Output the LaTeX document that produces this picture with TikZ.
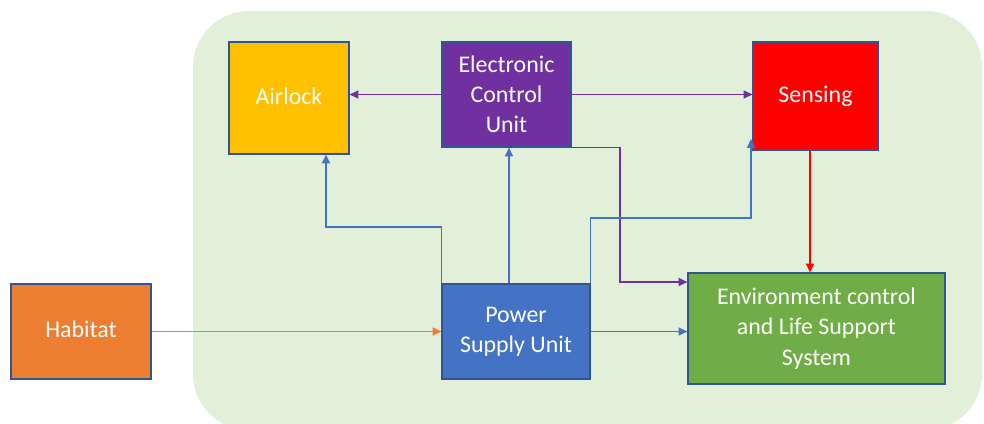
\documentclass[tikz,border=0pt]{standalone}
\usepackage{fontspec}
\setmainfont{Carlito}
\usetikzlibrary{positioning,arrows.meta,calc}
\definecolor{bggreen}{HTML}{E2EFD9}
\definecolor{edge}{HTML}{2F5597}
\definecolor{amber}{HTML}{FFC000}
\definecolor{violet}{HTML}{7030A0}
\definecolor{alarm}{HTML}{FF0000}
\definecolor{rust}{HTML}{ED7D31}
\definecolor{azure}{HTML}{4472C4}
\definecolor{leaf}{HTML}{70AD47}
\tikzset{
  blk/.style ={draw=edge, line width=.8pt, align=center, text=white, inner sep=2pt, font=\fontsize{17}{21.5}\selectfont},
  blka/.style={blk, fill=amber},
  blkv/.style={blk, fill=violet},
  blkr/.style={blk, fill=alarm},
  blko/.style={blk, fill=rust},
  blkb/.style={blk, fill=azure},
  blkg/.style={blk, fill=leaf},
  ctl/.style ={draw=violet, line width=1.1pt, -{Triangle[length=2.2mm,width=2mm]}},
  pwr/.style ={draw=azure,  line width=1.1pt, -{Triangle[length=2.2mm,width=2mm]}},
  hot/.style ={draw=alarm,  line width=1.1pt, -{Triangle[length=2.2mm,width=2mm]}},
  hab/.style ={draw=rust,   line width=1.1pt, -{Triangle[length=2.2mm,width=2mm]}},
}

\begin{document}
\begin{tikzpicture}[x=0.025cm,y=-0.025cm]
    \useasboundingbox (0,0) rectangle (984,423);
    \fill[bggreen, rounded corners=1.4cm] (193,11) rectangle (982,430);

    \node[blka,minimum width=3cm,    minimum height=2.8cm]   (airlock) at (289,98)    {\raisebox{3pt}{Airlock}};
    \node[blkv,minimum width=3.225cm,minimum height=2.625cm] (ecu)     at (506.5,94.5) {Electronic\\Control\\Unit};
    \node[blkr,minimum width=3.125cm,minimum height=2.7cm]   (sensing) at (815.5,96)  {\raisebox{3pt}{Sensing}};
    \node[blko,minimum width=3.5cm,  minimum height=2.375cm] (habitat) at (81,331.5)  {\raisebox{3pt}{Habitat}};
    \node[blkb,minimum width=3.7cm,  minimum height=2.375cm] (psu)     at (516,331.5) {Power\\Supply Unit};
    \node[blkg,minimum width=6.425cm,minimum height=2.775cm] (eclss)   at (816.5,328.5) {Environment control\\and Life Support\\System};

    \coordinate (k1) at (620,282);
    \coordinate (k2) at (326,227);
    \coordinate (k3) at (751,218);
    \coordinate (k4) at (751,139);

    \draw[ctl] (ecu.west) -- (ecu.west -| airlock.east);
    \draw[ctl] (ecu.east) -- (ecu.east -| sensing.west);
    \draw[ctl] (ecu.south east) -| (k1) -- (k1 -| eclss.west);
    \draw[hot] (sensing.south -| 810,0) -- (eclss.north -| 810,0);
    \draw[pwr] (psu.north west) |- (k2) -- (k2 |- airlock.south);
    \draw[pwr] (psu.north -| 509,0) -- (ecu.south -| 509,0);
    \draw[pwr] (psu.north east) |- (k3) -- (k4);
    \draw[pwr] (psu.east) -- (psu.east -| eclss.west);
    \draw[hab] (habitat.east) -- (psu.west);
  \end{tikzpicture}
\end{document}
